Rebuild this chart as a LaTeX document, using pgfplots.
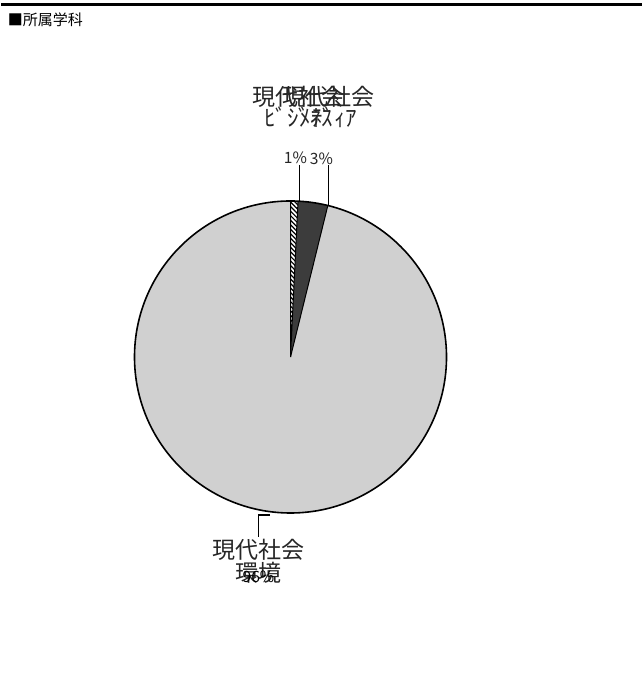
\documentclass[border=0pt]{standalone}
\usepackage{fontspec}
\setmainfont{Noto Sans CJK JP}
\usepackage{pgfplots}
\usepackage{pgfplotstable}
\pgfplotsset{compat=1.18}
\usetikzlibrary{patterns.meta}

\definecolor{pielight}{RGB}{208,208,208}
\definecolor{piedark}{RGB}{60,60,60}

% counts per department (ビジネス, メディア, 環境)
\pgfplotstableread{
dept count
biz 2
media 8
env 250
}\piedata

\pgfplotstablegetelem{0}{count}\of\piedata \let\va\pgfplotsretval
\pgfplotstablegetelem{1}{count}\of\piedata \let\vb\pgfplotsretval
\pgfplotstablegetelem{2}{count}\of\piedata \let\vc\pgfplotsretval
\pgfmathsetmacro\tot{\va+\vb+\vc}
\pgfmathsetmacro\aA{90}
\pgfmathsetmacro\aB{90-360*\va/\tot}
\pgfmathsetmacro\aC{\aB-360*\vb/\tot}
\pgfmathsetmacro\aD{-270}
% centre and radius in picture units (1 unit = 1 px of the original)
\def\cx{289}\def\cy{342}\def\rr{156}
\pgfmathsetmacro\xA{\cx+\rr*cos(\aA)}\pgfmathsetmacro\yA{\cy+\rr*sin(\aA)}
\pgfmathsetmacro\xB{\cx+\rr*cos(\aB)}\pgfmathsetmacro\yB{\cy+\rr*sin(\aB)}
\pgfmathsetmacro\xC{\cx+\rr*cos(\aC)}\pgfmathsetmacro\yC{\cy+\rr*sin(\aC)}

\begin{document}
\begin{tikzpicture}
\begin{axis}[
    scale only axis,
    width=320pt, height=349.5pt,
    xmin=0, xmax=640, ymin=0, ymax=699,
    hide axis, clip=false,
]
\path (axis cs:0,0) rectangle (axis cs:640,699);
% frame line at the top
\draw[line width=1.5pt] (axis cs:0,694) -- (axis cs:640,694);
\node[anchor=west, font=\fontsize{7.5}{9}\selectfont, inner sep=0pt] at (axis cs:6,679) {■所属学科};

% slices
\fill[pielight] (axis cs:\cx,\cy) -- (axis cs:\xC,\yC) arc[start angle=\aC, end angle=\aD, radius=\rr] -- cycle;
\fill[piedark] (axis cs:\cx,\cy) -- (axis cs:\xB,\yB) arc[start angle=\aB, end angle=\aC, radius=\rr] -- cycle;
\fill[white] (axis cs:\cx,\cy) -- (axis cs:\xA,\yA) arc[start angle=\aA, end angle=\aB, radius=\rr] -- cycle;
\fill[pattern={Lines[angle=135, distance=1.6pt, line width=0.6pt]}] (axis cs:\cx,\cy) -- (axis cs:\xA,\yA) arc[start angle=\aA, end angle=\aB, radius=\rr] -- cycle;
\draw[line width=0.5pt] (axis cs:\xA,\yA) -- (axis cs:\cx,\cy) -- (axis cs:\xB,\yB);
\draw[line width=0.5pt] (axis cs:\cx,\cy) -- (axis cs:\xC,\yC);
\draw[line width=0.8pt] (axis cs:\cx,\cy) circle[radius=\rr];

% leader lines
\draw[line width=0.7pt] (axis cs:298,534) -- (axis cs:298,498);
\draw[line width=0.7pt] (axis cs:327,534) -- (axis cs:327,494);
\draw[line width=0.7pt] (axis cs:268,184) -- (axis cs:257,184) -- (axis cs:257,162);

% labels
\begin{scope}[every node/.style={inner sep=0pt, text=black!85}]
\node[font=\fontsize{11.5}{13}\selectfont] at (axis cs:297,602) {現代社会};
\node[font=\fontsize{11.5}{13}\selectfont] at (axis cs:297,582) {ﾋﾞｼﾞﾈｽ};
\node[font=\fontsize{11.5}{13}\selectfont] at (axis cs:327,602) {現代社会};
\node[font=\fontsize{11.5}{13}\selectfont] at (axis cs:327,582) {ﾒﾃﾞｨｱ};
\node[font=\fontsize{7.8}{9}\selectfont] at (axis cs:294,541) {1\%};
\node[font=\fontsize{7.8}{9}\selectfont] at (axis cs:320,540) {3\%};
\node[font=\fontsize{11.5}{13}\selectfont] at (axis cs:257,149) {現代社会};
\node[font=\fontsize{11.5}{13}\selectfont] at (axis cs:257,126) {環境};
\node[font=\fontsize{7.8}{9}\selectfont, text=black] at (axis cs:257,122) {96\%};
\end{scope}
\end{axis}
\end{tikzpicture}
\end{document}
